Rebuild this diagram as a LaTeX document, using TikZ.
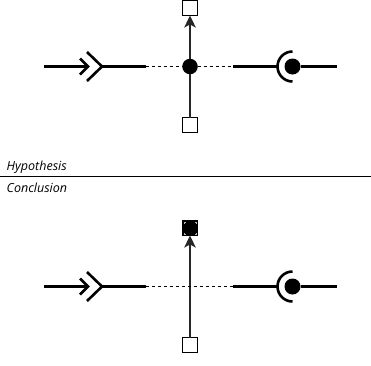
\documentclass[tikz,border=0pt]{standalone}
\usepackage{fontspec}
\setmainfont{Open Sans}
\usetikzlibrary{arrows.meta}
\tikzset{
 thick line/.style={line width=2.6pt},
 thin line/.style={line width=1.7pt,draw=black!85},
 dots/.style={line width=1.8pt,dash pattern=on 3pt off 3pt},
 sq/.style={draw=black,line width=1.3pt,fill=white,minimum size=15pt,inner sep=0pt,outer sep=0pt},
 ball/.style={circle,fill=black,inner sep=0pt,outer sep=0pt},
 lbl/.style={font=\fontsize{12.5pt}{14pt}\selectfont\itshape,anchor=base west,inner sep=0pt},
 tip/.style={-{Stealth[length=12pt,width=11.5pt,inset=3pt]}},
 ch/.style={thick line,line cap=butt},
 speck/.style={draw=white!70!black,line width=0.6pt},
}
\begin{document}
\begin{tikzpicture}[x=1pt,y=-1pt]
\useasboundingbox (0,0) rectangle (371,365);
% Hypothesis
\coordinate (ha) at (44,66.5);
\coordinate (hb) at (102,66.5);
\coordinate (hc) at (146,66.5);
\coordinate (hd) at (233,66.5);
\coordinate (he) at (337,66.5);
\node[sq] (t1) at (190,8) {};
\node[sq] (b1) at (190,125) {};
\node[ball,minimum size=15.5pt] (c1) at (190,66.5) {};
\node[ball,minimum size=16pt] (r1) at (292.5,66.5) {};
\draw[thin line] (b1) -- (c1);
\draw[thin line,tip] (c1) -- (t1);
\draw[dots] (hc) -- (c1);
\draw[dots] (c1) -- (hd);
\draw[thick line] (hb) -- (hc);
\draw[thick line] (hd) -- (277,66.5);
\draw[thick line] (r1) -- (he);
\draw[thick line] (ha) -- (88,66.5);
\draw[ch] (80,58.5) -- (88,66.5) -- (80,74.5);
\draw[ch] (87,52) -- (102,66.5) -- (87,81);
\draw[thick line] (292.5,51.5) arc[start angle=-90,end angle=-270,radius=15];
% Labels
\node[lbl] (h) at (6.5,170) {Hypothesis};
\node[lbl] (k) at (6.5,192) {Conclusion};
\coordinate (ra) at (0,176.5);
\coordinate (rb) at (371,176.5);
\draw[line width=1.2pt] (ra) -- (rb);
% Conclusion
\coordinate (ja) at (44,286.5);
\coordinate (jb) at (102,286.5);
\coordinate (jc) at (146,286.5);
\coordinate (jd) at (233,286.5);
\coordinate (je) at (337,286.5);
\node[sq,fill=black] (t2) at (190,228) {};
\draw[speck] (184,223.5) -- (184,222) -- (185.5,222);
\draw[speck] (194.5,222) -- (196,222) -- (196,223.5);
\draw[speck] (196,232.5) -- (196,234) -- (194.5,234);
\draw[speck] (185.5,234) -- (184,234) -- (184,232.5);
\node[sq] (b2) at (190,345) {};
\node[ball,minimum size=16pt] (r2) at (292.5,286.5) {};
\draw[thin line,tip] (b2) -- (t2);
\draw[dots] (jc) -- (jd);
\draw[thick line] (jb) -- (jc);
\draw[thick line] (jd) -- (277,286.5);
\draw[thick line] (r2) -- (je);
\draw[thick line] (ja) -- (88,286.5);
\draw[ch] (80,278.5) -- (88,286.5) -- (80,294.5);
\draw[ch] (87,272) -- (102,286.5) -- (87,301);
\draw[thick line] (292.5,271.5) arc[start angle=-90,end angle=-270,radius=15];
\end{tikzpicture}
\end{document}
